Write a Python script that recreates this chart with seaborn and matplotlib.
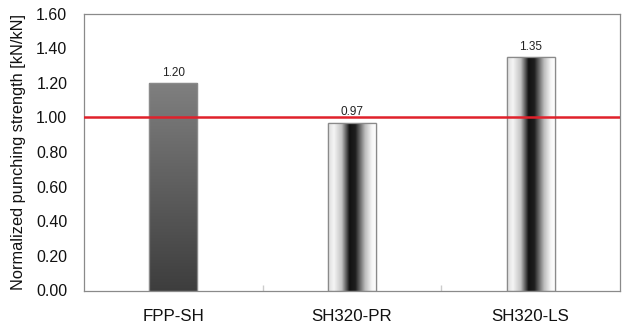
import numpy as np
import pandas as pd
import matplotlib
matplotlib.use("Agg")
import matplotlib.pyplot as plt
from matplotlib.colors import LinearSegmentedColormap
import seaborn as sns

categories = ["FPP-SH", "SH320-PR", "SH320-LS"]
values = [1.20, 0.97, 1.35]
value_labels = ["1.20", "0.97", "1.35"]
reference_level = 1.00
y_ticks = [0.0, 0.2, 0.4, 0.6, 0.8, 1.0, 1.2, 1.4, 1.6]

sns.set_theme(style="white")
plt.rcParams["font.family"] = ["Liberation Sans", "DejaVu Sans"]

df = pd.DataFrame({"case": categories, "value": values})

fig = plt.figure(figsize=(6.25, 3.27), dpi=100)
ax = fig.add_axes([84 / 625, 1 - 290.5 / 327, 536 / 625, 277 / 327])

sns.barplot(data=df, x="case", y="value", ax=ax, width=0.27,
            color="white", edgecolor="#8a8a8a", linewidth=0.9, zorder=2)

ax.set_ylim(0, 1.6)
ax.set_xlim(-0.5, 2.5)

cyl = LinearSegmentedColormap.from_list(
    "cyl",
    [(0.0, (0.86, 0.86, 0.86)), (0.12, (0.96, 0.96, 0.96)),
     (0.28, (0.76, 0.76, 0.76)), (0.44, (0.07, 0.07, 0.07)),
     (0.56, (0.12, 0.12, 0.12)), (0.76, (0.74, 0.74, 0.74)),
     (0.9, (0.97, 0.97, 0.97)), (1.0, (1.0, 1.0, 1.0))])
dark = LinearSegmentedColormap.from_list(
    "dark", [(0.0, (0.24, 0.24, 0.24)), (1.0, (0.50, 0.50, 0.50))])

for i, p in enumerate(ax.patches):
    x0, w = p.get_x(), p.get_width()
    h = p.get_height()
    if i == 0:
        grad = np.linspace(0, 1, 256).reshape(-1, 1)
        im = ax.imshow(grad, cmap=dark, origin="lower", aspect="auto",
                       extent=[x0, x0 + w, 0, h], zorder=2.1)
    else:
        grad = np.linspace(0, 1, 256).reshape(1, -1)
        im = ax.imshow(grad, cmap=cyl, origin="lower", aspect="auto",
                       extent=[x0, x0 + w, 0, h], zorder=2.1)
    im.set_clip_path(p)
    ax.add_patch(plt.Rectangle((x0, 0), w, h, fill=False,
                               edgecolor="#8a8a8a", linewidth=0.9, zorder=2.2))
    ax.annotate(value_labels[i], (x0 + w / 2, h), xytext=(0, 3),
                textcoords="offset points", ha="center", va="bottom",
                fontsize=8.5, color="#222222")

ax.set_xlim(-0.5, 2.5)
ax.set_ylim(0, 1.6)

ax.axhline(reference_level, color="#e0212b", linewidth=1.8, zorder=3)

ax.set_yticks(y_ticks)
ax.set_yticklabels([f"{t:.2f}" for t in y_ticks])
ax.set_xticks(range(len(categories)))
ax.set_xticks([0.5, 1.5], minor=True)
ax.tick_params(axis="y", which="major", direction="in", length=3,
               color="#dddddd", pad=12, labelsize=11.5, labelcolor="#111111")
ax.tick_params(axis="x", which="major", length=0, pad=13,
               labelsize=12.2, labelcolor="#111111")
ax.tick_params(axis="x", which="minor", direction="in", length=4,
               color="#cccccc", bottom=True)

ax.set_xlabel("")
ax.set_ylabel("Normalized punching strength [kN/kN]", fontsize=11.8,
              color="#111111", labelpad=7)

for s in ax.spines.values():
    s.set_color("#8a8a8a")
    s.set_linewidth(0.9)
    s.set_visible(True)

fig.savefig("out.png", dpi=100)
